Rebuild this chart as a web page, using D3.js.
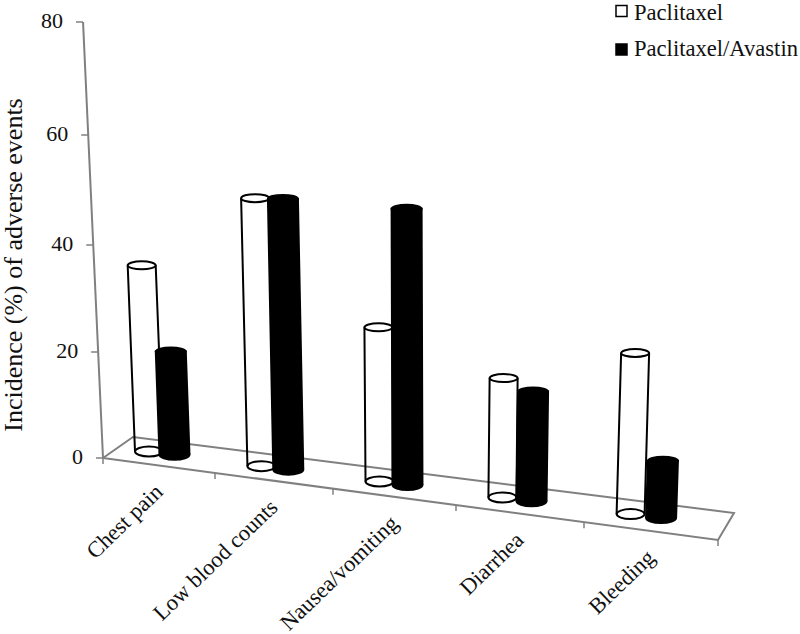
<!DOCTYPE html>
<html>
<head>
<meta charset="utf-8">
<script src="https://cdn.jsdelivr.net/npm/d3@7"></script>
<style>
body { margin: 0; background: #fff; }
svg { display: block; }
text { font-family: "Liberation Serif", serif; fill: #111; }
</style>
</head>
<body>
<svg width="800" height="634"></svg>
<script>
var categories = ["Chest pain", "Low blood counts", "Nausea/vomiting", "Diarrhea", "Bleeding"]
var paclitaxel = [35, 50, 29, 22.5, 30.3]
var combo = [19.5, 50.5, 51.5, 20.7, 10.8]
var yTicks = [0, 20, 40, 60, 80]
var legendLabels = ["Paclitaxel", "Paclitaxel/Avastin"]

var svg = d3.select("svg")
var idx = d3.range(categories.length + 1)

// the picture is in perspective so the scales are piecewise
var yScale = d3.scaleLinear().domain(yTicks).range([458, 352, 245, 135, 22])
var frontX = d3.scaleLinear().domain(idx).range([103, 215, 333, 456, 584, 718])
var backX = d3.scaleLinear().domain(idx).range([133, 242.5, 358, 478, 603, 734])
var frontY = d3.scaleLinear().domain([103, 718]).range([458, 540])
var backY = d3.scaleLinear().domain([133, 734]).range([437, 513])

function floor(u, d) {
    var fx = frontX(u), bx = backX(u)
    return [fx + (bx - fx) * d, frontY(fx) + (backY(bx) - frontY(fx)) * d]
}

// verticals lean towards a point far below the chart
function lift(p, v) {
    var h = yScale(0) - yScale(v)
    return [p[0] - (430 - p[0]) * 0.00014 * h, p[1] - h]
}

var grey = "#808080"

// floor
svg.append("path")
    .attr("d", d3.line()([floor(0, 0), floor(5, 0), floor(5, 1), floor(0, 1), floor(0, 0)]))
    .attr("fill", "none").attr("stroke", grey).attr("stroke-width", 2)

svg.selectAll(".xtick").data(idx).enter().append("line")
    .attr("x1", d => floor(d, 0)[0]).attr("y1", d => floor(d, 0)[1])
    .attr("x2", d => floor(d, 0)[0]).attr("y2", d => floor(d, 0)[1] + 6)
    .attr("stroke", grey).attr("stroke-width", 1.5)

// y axis
svg.append("line")
    .attr("x1", lift(floor(0, 0), 0)[0]).attr("y1", yScale(0))
    .attr("x2", lift(floor(0, 0), 80)[0]).attr("y2", yScale(80))
    .attr("stroke", grey).attr("stroke-width", 2)

svg.selectAll(".ytick").data(yTicks).enter().append("line")
    .attr("x1", d => lift(floor(0, 0), d)[0] - 7).attr("y1", d => yScale(d))
    .attr("x2", d => lift(floor(0, 0), d)[0]).attr("y2", d => yScale(d))
    .attr("stroke", grey).attr("stroke-width", 1.5)

svg.selectAll(".ylabel").data(yTicks).enter().append("text")
    .attr("x", d => lift(floor(0, 0), d)[0] - 20).attr("y", d => yScale(d) + 6)
    .attr("text-anchor", "end").attr("font-size", 22).text(d => d)

svg.append("text")
    .attr("transform", "translate(22,265) rotate(-90)")
    .attr("text-anchor", "middle").attr("font-size", 26)
    .text("Incidence (%) of adverse events")

function cylinder(i, offset, v, rx, dark) {
    var base = floor(i + offset, 0.5)
    var top = lift(base, v)
    var g = svg.append("g").attr("stroke", "#000").attr("stroke-width", 2)
    var fill = dark ? "#000" : "#fff"
    g.append("ellipse").attr("cx", base[0]).attr("cy", base[1])
        .attr("rx", rx).attr("ry", 5).attr("fill", fill)
    if (dark) {
        g.append("path").attr("fill", "#000")
            .attr("d", d3.line()([[base[0] - rx, base[1]], [top[0] - rx, top[1]], [top[0] + rx, top[1]], [base[0] + rx, base[1]]]))
    } else {
        g.append("path").attr("fill", "none")
            .attr("d", d3.line()([[base[0] - rx, base[1]], [top[0] - rx, top[1]]]) + d3.line()([[top[0] + rx, top[1]], [base[0] + rx, base[1]]]))
    }
    g.append("ellipse").attr("cx", top[0]).attr("cy", top[1])
        .attr("rx", rx).attr("ry", 4).attr("fill", fill)
}

categories.forEach(function (c, i) {
    cylinder(i, 0.28, paclitaxel[i], 14, false)
    cylinder(i, 0.51, combo[i], 15, true)
})

// category labels
svg.selectAll(".xlabel").data(categories).enter().append("text")
    .attr("transform", function (d, i) {
        var p = floor(i + 0.5, 0)
        return "translate(" + (p[0] + 5) + "," + (p[1] + 28) + ") rotate(-44)"
    })
    .attr("text-anchor", "end").attr("font-size", 22.5).text(d => d)

// legend
var legendY = d3.scalePoint().domain(legendLabels).range([11, 49.5])
var legend = svg.selectAll(".legend").data(legendLabels).enter().append("g")
legend.append("rect")
    .attr("x", 616).attr("y", d => legendY(d) - 5.5)
    .attr("width", 11).attr("height", 11)
    .attr("fill", (d, i) => i ? "#000" : "#fff")
    .attr("stroke", "#000").attr("stroke-width", 1.5)
legend.append("text")
    .attr("x", 634).attr("y", (d, i) => legendY(d) + (i ? 6 : 9))
    .attr("font-size", 22.6).text(d => d)
</script>
</body>
</html>
